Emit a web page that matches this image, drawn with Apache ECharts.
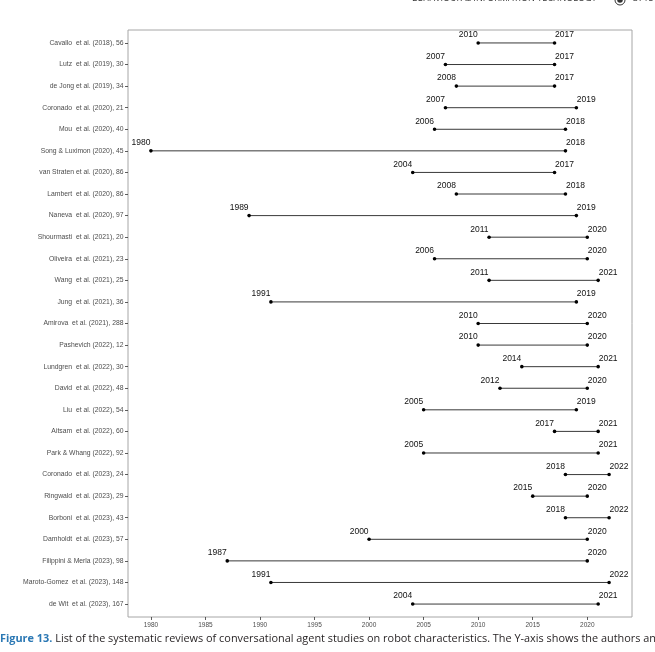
<!DOCTYPE html>
<html>
<head>
<meta charset="utf-8">
<script src="https://cdn.jsdelivr.net/npm/echarts@6/dist/echarts.min.js"></script>
<style>
html,body{margin:0;padding:0;background:#fff;}
#chart{width:655px;height:652px;}
</style>
</head>
<body>
<div id="chart"></div>
<script>
const studies = [
  "Cavallo  et al. (2018), 56",
  "Lutz  et al. (2019), 30",
  "de Jong et al. (2019), 34",
  "Coronado  et al. (2020), 21",
  "Mou  et al. (2020), 40",
  "Song & Luximon (2020), 45",
  "van Straten et al. (2020), 86",
  "Lambert  et al. (2020), 86",
  "Naneva  et al. (2020), 97",
  "Shourmasti  et al. (2021), 20",
  "Oliveira  et al. (2021), 23",
  "Wang  et al. (2021), 25",
  "Jung  et al. (2021), 36",
  "Amirova  et al. (2021), 288",
  "Pashevich (2022), 12",
  "Lundgren  et al. (2022), 30",
  "David  et al. (2022), 48",
  "Liu  et al. (2022), 54",
  "Aitsam  et al. (2022), 60",
  "Park & Whang (2022), 92",
  "Coronado  et al. (2023), 24",
  "Ringwald  et al. (2023), 29",
  "Borboni  et al. (2023), 43",
  "Damholdt  et al. (2023), 57",
  "Filippini & Merla (2023), 98",
  "Maroto-Gomez  et al. (2023), 148",
  "de Wit  et al. (2023), 167"
];
const startYears = [2010,2007,2008,2007,2006,1980,2004,2008,1989,2011,2006,2011,1991,2010,2010,2014,2012,2005,2017,2005,2018,2015,2018,2000,1987,1991,2004];
const endYears   = [2017,2017,2017,2019,2018,2018,2017,2018,2019,2020,2020,2021,2019,2020,2020,2021,2020,2019,2021,2021,2022,2020,2022,2020,2020,2022,2021];
const xTicks = [1980,1985,1990,1995,2000,2005,2010,2015,2020];
const headerText = "BEHAVIOUR & INFORMATION TECHNOLOGY";
const pageNumber = "3715";
const captionLabel = "Figure 13.";
const captionText = " List of the systematic reviews of conversational agent studies on robot characteristics. The Y-axis shows the authors and";

const rowIdx = studies.map((_, i) => i);
const data = rowIdx.map(i => [startYears[i], endYears[i], i]);

const chart = echarts.init(document.getElementById('chart'), null, {renderer: 'canvas'});
const lab = {fontFamily: 'Liberation Sans, Arial, sans-serif', color: '#4d4d4d'};

chart.setOption({
  animation: false,
  backgroundColor: '#fff',
  grid: {left: 128, right: 23, top: 30, bottom: 35, show: true, borderColor: '#a6a6a6', borderWidth: 1, backgroundColor: 'transparent'},
  xAxis: {
    type: 'value', min: 1977.9, max: 2024.1,
    axisLine: {show: false, onZero: false},
    splitLine: {show: false},
    axisTick: {show: true, length: 3, lineStyle: {color: '#333', width: 0.8}, customValues: xTicks},
    axisLabel: Object.assign({margin: 5, fontSize: 6.5, customValues: xTicks, formatter: v => String(v)}, lab)
  },
  yAxis: {
    type: 'value', inverse: true, min: -0.6, max: studies.length - 0.4,
    axisLine: {show: false, onZero: false},
    splitLine: {show: false},
    axisTick: {show: true, length: 3, lineStyle: {color: '#333', width: 0.8}, customValues: rowIdx},
    axisLabel: Object.assign({margin: 4.5, fontSize: 6.8, customValues: rowIdx, formatter: v => studies[Math.round(v)]}, lab)
  },
  series: [{
    type: 'custom',
    data: data,
    encode: {x: [0, 1], y: 2},
    renderItem: function (params, api) {
      const s = api.value(0), e = api.value(1), r = api.value(2);
      const p1 = api.coord([s, r]);
      const p2 = api.coord([e, r]);
      const tstyle = {fontFamily: 'Liberation Sans, Arial, sans-serif', fontSize: 8.5, fill: '#111'};
      return {
        type: 'group',
        children: [
          {type: 'line', shape: {x1: p1[0], y1: p1[1], x2: p2[0], y2: p2[1]}, style: {stroke: '#222', lineWidth: 0.9}},
          {type: 'circle', shape: {cx: p1[0], cy: p1[1], r: 1.8}, style: {fill: '#000'}},
          {type: 'circle', shape: {cx: p2[0], cy: p2[1], r: 1.8}, style: {fill: '#000'}},
          {type: 'text', x: p1[0] - 0.5, y: p1[1] - 3.5, style: Object.assign({text: String(s), align: 'right', verticalAlign: 'bottom'}, tstyle)},
          {type: 'text', x: p2[0] + 0.5, y: p2[1] - 3.5, style: Object.assign({text: String(e), align: 'left', verticalAlign: 'bottom'}, tstyle)}
        ]
      };
    }
  }],
  graphic: [
    {type: 'text', left: 412, top: -6, style: {text: headerText, fontFamily: 'Open Sans, sans-serif', fontSize: 9, fill: '#333'}},
    {type: 'circle', shape: {cx: 620, cy: 0, r: 5}, style: {fill: 'none', stroke: '#333', lineWidth: 1}},
    {type: 'circle', shape: {cx: 620, cy: 0, r: 2.8}, style: {fill: '#333'}},
    {type: 'text', left: 633, top: -6, style: {text: pageNumber, fontFamily: 'Open Sans, sans-serif', fontSize: 9, fill: '#333'}},
    {type: 'text', left: 0, top: 633, style: {
      text: '{b|' + captionLabel + '}{n|' + captionText + '}',
      rich: {
        b: {fontFamily: 'Open Sans, sans-serif', fontWeight: 'bold', fontSize: 10.9, fill: '#2b78b4', color: '#2b78b4'},
        n: {fontFamily: 'Open Sans, sans-serif', fontSize: 10.9, fill: '#231f20', color: '#231f20'}
      }
    }}
  ]
});
</script>
</body>
</html>
